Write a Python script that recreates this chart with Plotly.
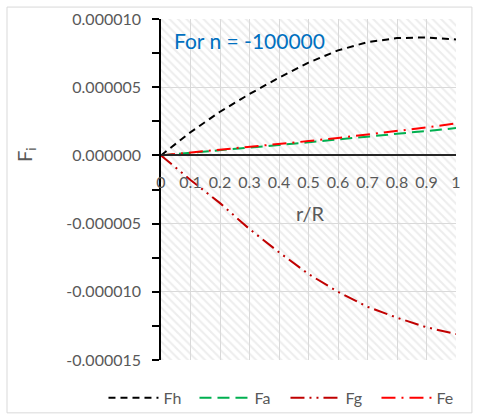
import plotly.graph_objects as go

r = [0, 0.1, 0.2, 0.3, 0.4, 0.5, 0.6, 0.7, 0.8, 0.9, 1.0]
Fh = [0, 1.7e-6, 3.2e-6, 4.5e-6, 5.7e-6, 6.8e-6, 7.7e-6, 8.3e-6, 8.6e-6, 8.65e-6, 8.5e-6]
Fa = [0, 0.18e-6, 0.37e-6, 0.56e-6, 0.76e-6, 0.96e-6, 1.16e-6, 1.37e-6, 1.58e-6, 1.79e-6, 2.0e-6]
Fg = [0, -1.8e-6, -3.5e-6, -5.4e-6, -7.1e-6, -8.7e-6, -10.0e-6, -11.1e-6, -11.9e-6, -12.6e-6, -13.1e-6]
Fe = [0, 0.2e-6, 0.4e-6, 0.6e-6, 0.82e-6, 1.05e-6, 1.28e-6, 1.52e-6, 1.78e-6, 2.05e-6, 2.35e-6]

x_ticks = [0, 0.1, 0.2, 0.3, 0.4, 0.5, 0.6, 0.7, 0.8, 0.9, 1.0]
x_labels = ["0", "0.1", "0.2", "0.3", "0.4", "0.5", "0.6", "0.7", "0.8", "0.9", "1"]
y_ticks = [1e-5, 5e-6, 0, -5e-6, -1e-5, -1.5e-5]
y_labels = ["0.000010", "0.000005", "0.000000", "-0.000005", "-0.000010", "-0.000015"]

x_range = [0, 1]
y_range = [-1.5e-5, 1e-5]

FONT = "Lato"
GRAY = "#595959"

fig = go.Figure()

# hatched plot-area background
fig.add_trace(go.Scatter(
    x=[x_range[0], x_range[1], x_range[1], x_range[0], x_range[0]],
    y=[y_range[0], y_range[0], y_range[1], y_range[1], y_range[0]],
    mode="lines", fill="toself", line=dict(width=0),
    fillcolor="rgba(0,0,0,0)",
    fillpattern=dict(shape="\\", fgcolor="#DCDCDC", bgcolor="rgba(0,0,0,0)", size=6, solidity=0.35),
    showlegend=False, hoverinfo="skip"))

fig.add_trace(go.Scatter(x=r, y=Fh, name="Fh", mode="lines",
                         line=dict(color="#000000", width=2, dash="7px,5px")))
fig.add_trace(go.Scatter(x=r, y=Fa, name="Fa", mode="lines",
                         line=dict(color="#00B050", width=2, dash="12px,6px")))
fig.add_trace(go.Scatter(x=r, y=Fg, name="Fg", mode="lines",
                         line=dict(color="#C00000", width=2, dash="14px,5px,2px,5px,2px,5px")))
fig.add_trace(go.Scatter(x=r, y=Fe, name="Fe", mode="lines",
                         line=dict(color="#FF0000", width=2, dash="14px,6px,2px,6px")))

fig.update_layout(
    width=480, height=420,
    margin=dict(l=161, r=24, t=19, b=60, autoexpand=False),
    paper_bgcolor="white", plot_bgcolor="white",
    font=dict(family=FONT, color=GRAY, size=16),
    xaxis=dict(range=x_range, tickvals=x_ticks, ticktext=x_labels,
               showgrid=True, gridcolor="#D9D9D9", gridwidth=1,
               showline=True, linecolor="#262626", linewidth=1.5,
               anchor="free", position=0.6, ticks="", ticklabelstandoff=13,
               zeroline=False, automargin=False, tickfont=dict(size=16, color=GRAY)),
    yaxis=dict(range=y_range, tickvals=y_ticks, ticktext=y_labels,
               showgrid=True, gridcolor="#D9D9D9", gridwidth=1,
               showline=True, linecolor="#000000", linewidth=1.5,
               ticks="outside", ticklen=7, tickcolor="#000000", tickwidth=1.5,
               ticklabelstandoff=8, zeroline=False, automargin=False,
               minor=dict(dtick=2.5e-6, tick0=0, ticks="outside", ticklen=7,
                          tickcolor="#000000", tickwidth=1.5, showgrid=False),
               tickfont=dict(size=16, color=GRAY)),
    legend=dict(orientation="h", x=-0.195, y=-0.111, xanchor="left", yanchor="middle",
                font=dict(size=16, color=GRAY), itemwidth=50,
                entrywidth=26, entrywidthmode="pixels",
                bgcolor="rgba(0,0,0,0)"),
    showlegend=True,
    shapes=[dict(type="rect", xref="paper", yref="paper",
                 x0=-0.522, x1=1.054, y0=-0.155, y1=1.035,
                 line=dict(color="#D9D9D9", width=1), layer="below")],
    annotations=[
        dict(text="F<sub>i</sub>", xref="paper", yref="paper", x=-0.461, y=0.601,
             showarrow=False, textangle=-90, font=dict(size=20, color=GRAY),
             xanchor="center", yanchor="middle"),
        dict(text="r/R", xref="paper", yref="paper", x=0.505, y=0.431,
             showarrow=False, font=dict(size=20, color=GRAY),
             xanchor="center", yanchor="middle"),
        dict(text="For n = -100000", xref="paper", yref="paper", x=0.037, y=0.938,
             showarrow=False, font=dict(size=21, color="#0070C0"),
             xanchor="left", yanchor="middle"),
    ],
)

fig.write_html("out.html")
